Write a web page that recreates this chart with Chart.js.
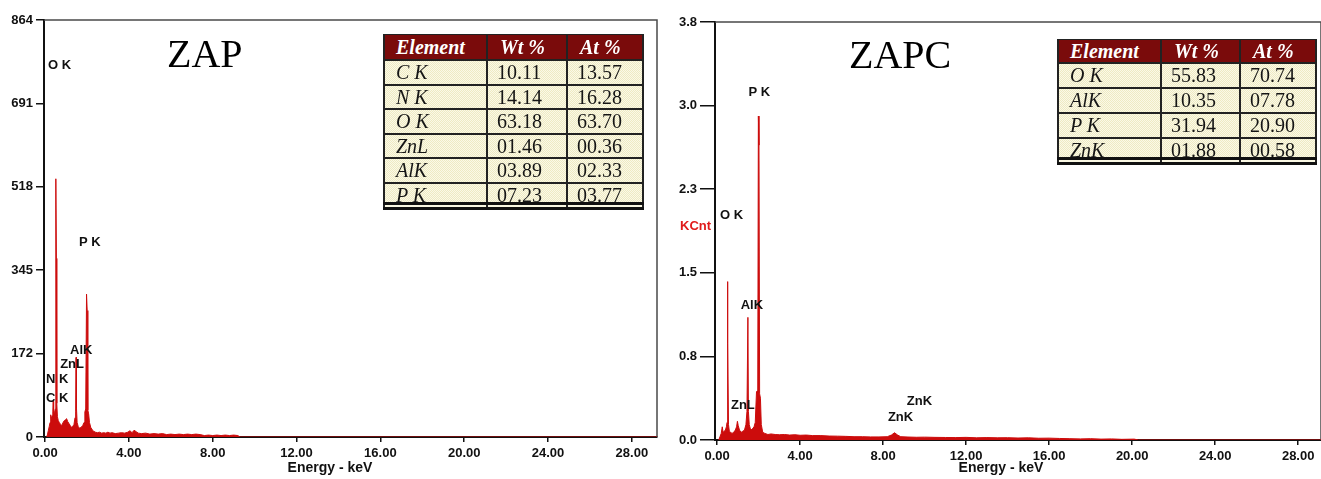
<!DOCTYPE html>
<html>
<head>
<meta charset="utf-8">
<script src="https://cdn.jsdelivr.net/npm/chart.js@4.4.1/dist/chart.umd.min.js"></script>
<style>
  body { margin: 0; background: #fff; width: 1321px; height: 479px; overflow: hidden; position: relative; }
  .panel { position: absolute; top: 0; }
  .tbl { position: absolute; overflow: hidden; font-family: "Liberation Serif", serif; font-size: 20px; }
  .cell { position: absolute; box-sizing: border-box; white-space: nowrap; color: #151515;
          background-color: #f6f3d2;
          background-image: repeating-conic-gradient(#eeeac3 0 25%, #fbf9e7 0 50%);
          background-size: 2px 2px; }
  .head { background: #7a0b0b; color: #fff; font-weight: bold; font-style: italic; }
  .ln { position: absolute; background: #222; }
</style>
</head>
<body>
<canvas id="zap" class="panel" width="660" height="479" style="left:0"></canvas>
<canvas id="zapc" class="panel" width="661" height="479" style="left:660px"></canvas>
<script>
// energy axis ticks (keV)
var xTicks = [0, 4, 8, 12, 16, 20, 24, 28];

// ZAP spectrum (counts)
var zapYLabels = ['0', '172', '345', '518', '691', '864'];
var zapEnergy = [0.08, 0.12, 0.16, 0.20, 0.24, 0.27, 0.30, 0.34, 0.37, 0.39, 0.41, 0.45, 0.49, 0.51, 0.52, 0.54, 0.56, 0.59,
  0.63, 0.68, 0.74, 0.80, 0.86, 0.92, 0.98, 1.03, 1.08, 1.14, 1.20, 1.26, 1.32, 1.38, 1.43, 1.46, 1.48, 1.50, 1.53,
  1.58, 1.65, 1.72, 1.80, 1.86, 1.90, 1.94, 1.98, 2.01, 2.04, 2.08, 2.12, 2.18, 2.25, 2.32, 2.40, 2.50, 2.60, 2.70,
  2.80, 2.90, 3.00, 3.10, 3.20, 3.35, 3.50, 3.65, 3.80, 3.95, 4.05, 4.15, 4.25, 4.35, 4.45, 4.60, 4.80, 5.00, 5.20,
  5.40, 5.60, 5.80, 6.00, 6.20, 6.40, 6.60, 6.80, 7.00, 7.20, 7.40, 7.60, 7.80, 8.00, 8.20, 8.40, 8.60, 8.80, 9.00,
  9.20, 9.30, 29.2];
var zapCounts = [0, 6, 14, 22, 30, 46, 38, 44, 52, 74, 48, 50, 58, 95, 535, 370, 70, 42,
  34, 30, 26, 24, 30, 34, 36, 38, 32, 28, 24, 20, 22, 26, 40, 52, 165, 60, 30,
  22, 18, 20, 24, 30, 52, 58, 296, 262, 56, 48, 30, 20, 15, 12, 10, 9, 10, 8,
  9, 8, 10, 8, 9, 7, 8, 9, 8, 10, 13, 9, 14, 11, 8, 7, 8, 6, 7,
  6, 7, 5, 6, 5, 6, 5, 6, 5, 6, 5, 3, 4, 3, 4, 3, 4, 3, 4,
  3, 0, 0];

// ZAPC spectrum (KCnt)
var zapcYLabels = ['0.0', '0.8', '1.5', '2.3', '3.0', '3.8'];
var zapcEnergy = [0.08, 0.14, 0.20, 0.25, 0.29, 0.34, 0.40, 0.45, 0.48, 0.50, 0.52, 0.55, 0.59, 0.65, 0.72, 0.80, 0.88,
  0.94, 0.98, 1.02, 1.08, 1.16, 1.24, 1.32, 1.39, 1.44, 1.485, 1.51, 1.55, 1.62, 1.70, 1.78, 1.84, 1.90, 1.96, 1.99,
  2.02, 2.05, 2.09, 2.13, 2.20, 2.30, 2.45, 2.60, 2.80, 3.00, 3.25, 3.50, 3.75, 4.00, 4.30, 4.60, 5.00, 5.40, 5.80,
  6.20, 6.60, 7.00, 7.40, 7.80, 8.20, 8.40, 8.55, 8.70, 8.85, 9.20, 9.60, 10.0, 10.5, 11.0, 11.5, 12.0, 12.5, 13.0,
  13.5, 14.0, 14.5, 15.0, 15.5, 16.0, 16.5, 17.0, 17.5, 18.0, 18.5, 19.0, 19.5, 20.1, 20.3, 29.1];
var zapcKcnt = [0, 0.03, 0.06, 0.12, 0.07, 0.08, 0.09, 0.12, 0.16, 1.44, 0.88, 0.14, 0.08, 0.07, 0.06, 0.07, 0.09,
  0.12, 0.17, 0.13, 0.09, 0.07, 0.08, 0.09, 0.14, 0.26, 1.115, 0.26, 0.14, 0.09, 0.10, 0.12, 0.16, 0.44, 0.45, 2.945,
  2.68, 0.42, 0.38, 0.14, 0.07, 0.06, 0.05, 0.055, 0.05, 0.048, 0.05, 0.045, 0.048, 0.043, 0.045, 0.04, 0.04, 0.036, 0.035,
  0.033, 0.03, 0.03, 0.028, 0.028, 0.03, 0.045, 0.066, 0.045, 0.03, 0.027, 0.025, 0.026, 0.024, 0.023, 0.022, 0.024, 0.02, 0.022,
  0.02, 0.021, 0.018, 0.02, 0.016, 0.017, 0.014, 0.012, 0.01, 0.012, 0.008, 0.01, 0.006, 0.008, 0, 0];

// peak labels: [text, keV, height]
var zapPeaks = [['O K', 0.14, 763], ['P K', 1.62, 395], ['AlK', 1.19, 172], ['ZnL', 0.72, 143], ['N K', 0.05, 112], ['C K', 0.05, 72]];
var zapcPeaks = [['P K', 1.51, 3.127], ['O K', 0.14, 2.009], ['AlK', 1.14, 1.19], ['ZnL', 0.67, 0.28], ['ZnK', 9.14, 0.318], ['ZnK', 8.23, 0.175]];

// quantification tables
var zapElements = ['C K', 'N K', 'O K', 'ZnL', 'AlK', 'P K'];
var zapWt = ['10.11', '14.14', '63.18', '01.46', '03.89', '07.23'];
var zapAt = ['13.57', '16.28', '63.70', '00.36', '02.33', '03.77'];
var zapcElements = ['O K', 'AlK', 'P K', 'ZnK'];
var zapcWt = ['55.83', '10.35', '31.94', '01.88'];
var zapcAt = ['70.74', '07.78', '20.90', '00.58'];
var tableHeader = ['Element', 'Wt %', 'At %'];

var red = '#cc0c0c';
var tickFont = { family: 'Liberation Sans', weight: 'bold', size: 13 };

var decoPlugin = {
  id: 'deco',
  beforeDatasetsDraw: function (chart) {
    var a = chart.chartArea, ctx = chart.ctx;
    ctx.save();
    ctx.strokeStyle = '#4a4a4a';
    ctx.lineWidth = 1.5;
    ctx.beginPath();
    ctx.moveTo(a.left, a.top);
    ctx.lineTo(a.right, a.top);
    ctx.lineTo(a.right, a.bottom);
    ctx.stroke();
    ctx.restore();
  },
  afterDraw: function (chart, args, o) {
    var ctx = chart.ctx, xs = chart.scales.x, ys = chart.scales.y;
    ctx.save();
    ctx.textBaseline = 'alphabetic';
    ctx.fillStyle = '#000';
    ctx.font = '40px "Liberation Serif"';
    ctx.fillText(o.title, o.titleX, o.titleY);
    ctx.font = 'bold 13px "Liberation Sans"';
    ctx.fillStyle = '#111';
    o.peaks.forEach(function (p) {
      ctx.fillText(p[0], xs.getPixelForValue(p[1]), ys.getPixelForValue(p[2]));
    });
    ctx.font = 'bold 14px "Liberation Sans"';
    ctx.textAlign = 'center';
    ctx.fillText('Energy - keV', o.axisX, 472);
    if (o.unit) {
      ctx.fillStyle = '#e01b1b';
      ctx.font = 'bold 13px "Liberation Sans"';
      ctx.textAlign = 'left';
      ctx.fillText(o.unit, 20, 230);
    }
    ctx.restore();
  }
};

function spectrum(id, energy, counts, yMax, yLabels, opt) {
  return new Chart(document.getElementById(id), {
    type: 'line',
    data: {
      datasets: [{
        data: energy.map(function (e, i) { return { x: e, y: counts[i] }; }),
        borderColor: red,
        backgroundColor: red,
        borderWidth: 1,
        pointRadius: 0,
        fill: 'origin',
        tension: 0
      }]
    },
    options: {
      responsive: false,
      animation: false,
      devicePixelRatio: 1,
      layout: { padding: opt.padding },
      plugins: { legend: { display: false }, tooltip: { enabled: false }, deco: opt.deco },
      scales: {
        x: {
          type: 'linear', min: opt.xMin, max: opt.xMax,
          afterBuildTicks: function (s) { s.ticks = xTicks.map(function (v) { return { value: v }; }); },
          afterFit: function (s) { s.height = opt.xHeight; },
          ticks: { callback: function (v) { return v.toFixed(2); }, font: tickFont, color: '#111', padding: 4, maxRotation: 0, autoSkip: false },
          grid: { drawOnChartArea: false, tickLength: 5, color: '#111', lineWidth: 1.5 },
          border: { color: '#111', width: 2 }
        },
        y: {
          min: 0, max: yMax,
          afterBuildTicks: function (s) {
            s.ticks = yLabels.map(function (l, i) { return { value: yMax * i / (yLabels.length - 1) }; });
          },
          afterFit: function (s) { s.width = opt.yWidth; },
          ticks: { callback: function (v, i) { return yLabels[i]; }, font: tickFont, color: '#111', padding: 3 },
          grid: { drawOnChartArea: false, tickLength: opt.yTick, color: '#111', lineWidth: 1.5 },
          border: { color: '#111', width: 2 }
        }
      }
    },
    plugins: [decoPlugin]
  });
}

spectrum('zap', zapEnergy, zapCounts, 864, zapYLabels, {
  padding: { top: 20, right: 3, bottom: 0, left: 0 },
  xMin: -0.05, xMax: 29.2, xHeight: 42, yWidth: 44, yTick: 8,
  deco: { title: 'ZAP', titleX: 167, titleY: 67, peaks: zapPeaks, axisX: 330 }
});

spectrum('zapc', zapcEnergy, zapcKcnt, 3.8, zapcYLabels, {
  padding: { top: 22, right: 0, bottom: 0, left: 0 },
  xMin: -0.1, xMax: 29.1, xHeight: 39, yWidth: 55, yTick: 15,
  deco: { title: 'ZAPC', titleX: 189, titleY: 68, peaks: zapcPeaks, axisX: 341, unit: 'KCnt' }
});

// quantification tables drawn as html over the charts
function quantTable(left, top, cols, headH, rowH, clipH, elements, wt, at) {
  var width = cols[0] + cols[1] + cols[2];
  var box = document.createElement('div');
  box.className = 'tbl';
  box.style.left = left + 'px';
  box.style.top = top + 'px';
  box.style.width = width + 'px';
  box.style.height = clipH + 'px';
  var rows = [tableHeader].concat(elements.map(function (e, i) { return [e, wt[i], at[i]]; }));
  var y = 0;
  rows.forEach(function (r, ri) {
    var h = ri === 0 ? headH : rowH;
    var x = 0;
    r.forEach(function (txt, ci) {
      var c = document.createElement('div');
      c.className = 'cell' + (ri === 0 ? ' head' : '');
      c.style.left = x + 'px';
      c.style.top = y + 'px';
      c.style.width = cols[ci] + 'px';
      c.style.height = h + 'px';
      c.style.lineHeight = h + 'px';
      c.style.paddingLeft = (ri === 0 || ci === 0 ? 13 : 10) + 'px';
      if (ri > 0 && ci === 0) c.style.fontStyle = 'italic';
      c.textContent = txt;
      box.appendChild(c);
      x += cols[ci];
    });
    y += h;
  });
  // grid lines
  var yy = 0;
  for (var i = 0; i <= rows.length; i++) {
    var l = document.createElement('div');
    l.className = 'ln';
    l.style.left = '0px'; l.style.width = width + 'px';
    l.style.top = (yy - 1) + 'px'; l.style.height = '2px';
    box.appendChild(l);
    yy += i === 0 ? headH : rowH;
  }
  var xx = 0;
  for (var j = 0; j <= 3; j++) {
    var v = document.createElement('div');
    v.className = 'ln';
    v.style.top = '0px'; v.style.height = clipH + 'px';
    v.style.left = Math.min(Math.max(xx - 1, 0), width - 2) + 'px'; v.style.width = '2px';
    box.appendChild(v);
    xx += cols[j] || 0;
  }
  document.body.appendChild(box);
  // double closing rule
  var band = document.createElement('div');
  band.style.position = 'absolute';
  band.style.left = left + 'px';
  band.style.top = (top + clipH) + 'px';
  band.style.width = width + 'px';
  band.style.height = '8px';
  band.style.boxSizing = 'border-box';
  band.style.borderTop = '3px solid #111';
  band.style.borderBottom = '3px solid #111';
  band.style.background = '#f9f7e2';
  var bx = 0;
  for (var k = 0; k <= 3; k++) {
    var bv = document.createElement('div');
    bv.className = 'ln';
    bv.style.top = '0px'; bv.style.height = '2px';
    bv.style.left = Math.min(Math.max(bx - 1, 0), width - 2) + 'px'; bv.style.width = '2px';
    band.appendChild(bv);
    bx += cols[k] || 0;
  }
  document.body.appendChild(band);
}

quantTable(383, 34, [104, 80, 77], 26, 24.6, 168, zapElements, zapWt, zapAt);
quantTable(1057, 39, [104, 79, 77], 24, 25, 118, zapcElements, zapcWt, zapcAt);
</script>
</body>
</html>
